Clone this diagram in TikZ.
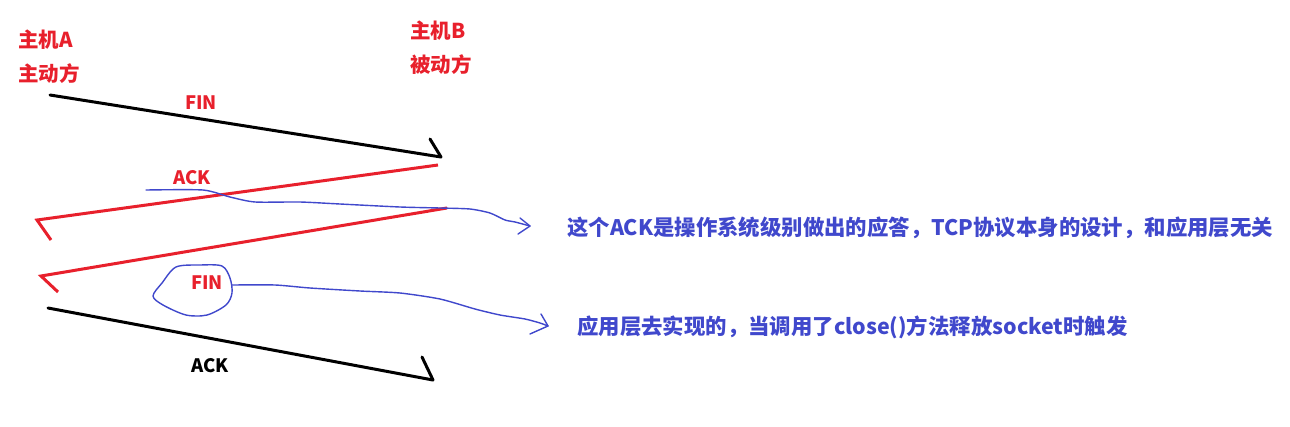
\documentclass[tikz,border=0pt]{standalone}
\usepackage{fontspec}
\setmainfont{Noto Sans CJK SC}
\definecolor{myred}{RGB}{232,32,44}
\definecolor{myblue}{RGB}{64,72,204}
\begin{document}
\begin{tikzpicture}[x=1pt,y=-1pt,
  redtxt/.style={text=myred,font=\fontsize{20.5}{24}\selectfont\bfseries,inner sep=0pt},
  lbl/.style={font=\fontsize{18.5}{22}\selectfont\bfseries,inner sep=0pt},
  bluetxt/.style={text=myblue,font=\fontsize{21.4}{25}\selectfont\bfseries,inner sep=0pt,anchor=west},
  blk/.style={draw=black,line width=3pt,line cap=round},
  rd/.style={draw=myred,line width=3pt},
  bl/.style={draw=myblue,line width=1.4pt,line cap=round,line join=round}]
\useasboundingbox (0,0) rectangle (1290,426);
\fill[white] (0,0) rectangle (1290,426);
% hosts
\node[redtxt,anchor=west] (hA) at (18,40) {主机A};
\node[redtxt,anchor=west] (hA2) at (18,74) {主动方};
\node[redtxt,anchor=west] (hB) at (410,31) {主机B};
\node[redtxt,anchor=west] (hB2) at (410,65) {被动方};
% FIN A->B
\coordinate (f1) at (50,95);
\coordinate (f2) at (441,157);
\coordinate (fh) at (430,139);
\draw[blk] (f1) -- (f2);
\draw[blk] (fh) -- (f2);
\node[lbl,text=myred] (finA) at (201,103) {FIN};
% ACK B->A (red)
\coordinate (r1s) at (438,165);
\coordinate (r1e) at (37,220);
\coordinate (r1h) at (51,240);
\draw[rd] (r1s) -- (r1e) -- (r1h);
\node[lbl,text=myred] (ackB) at (192,178) {ACK};
% FIN B->A (red)
\coordinate (r2s) at (447,208);
\coordinate (r2e) at (41,276);
\coordinate (r2h) at (58,292);
\draw[rd] (r2s) -- (r2e) -- (r2h);
% FIN circle
\node[lbl,text=myred] (finB) at (207,283) {FIN};
\draw[bl] plot[smooth cycle,tension=0.5] coordinates {(176,267) (200,265) (222,266) (230,278) (232,293) (226,305) (207,315) (186,315) (163,305) (153,296) (162,283)};
% ACK A->B (black)
\coordinate (k1) at (48,308);
\coordinate (k2) at (433,380);
\coordinate (kh) at (422,357);
\draw[blk] (k1) -- (k2);
\draw[blk] (kh) -- (k2);
\node[lbl] (ackA) at (210,366) {ACK};
% annotations
\node[bluetxt] (t1) at (567,228) {这个ACK是操作系统级别做出的应答，TCP协议本身的设计，和应用层无关};
\node[bluetxt] (t2) at (577,327) {应用层去实现的，当调用了close()方法释放socket时触发};
% blue curve 1
\coordinate (c1s) at (146,190);
\coordinate (c1e) at (530,226);
\draw[bl] plot[smooth,tension=0.4] coordinates {(c1s) (203,190) (230,197) (255,202) (300,202) (340,204) (400,207) (440,208) (470,209) (490,213) (505,220) (515,222) (c1e)};
\draw[bl] (520,218) -- (c1e) -- (518,234);
% blue curve 2
\coordinate (c2s) at (232,285);
\coordinate (c2e) at (548,326);
\draw[bl] plot[smooth,tension=0.4] coordinates {(c2s) (275,285) (310,288) (360,291) (400,293) (440,299) (475,309) (500,315) (525,319) (540,323) (c2e)};
\draw[bl] (541,314) -- (c2e) -- (530,334);
\end{tikzpicture}
\end{document}
